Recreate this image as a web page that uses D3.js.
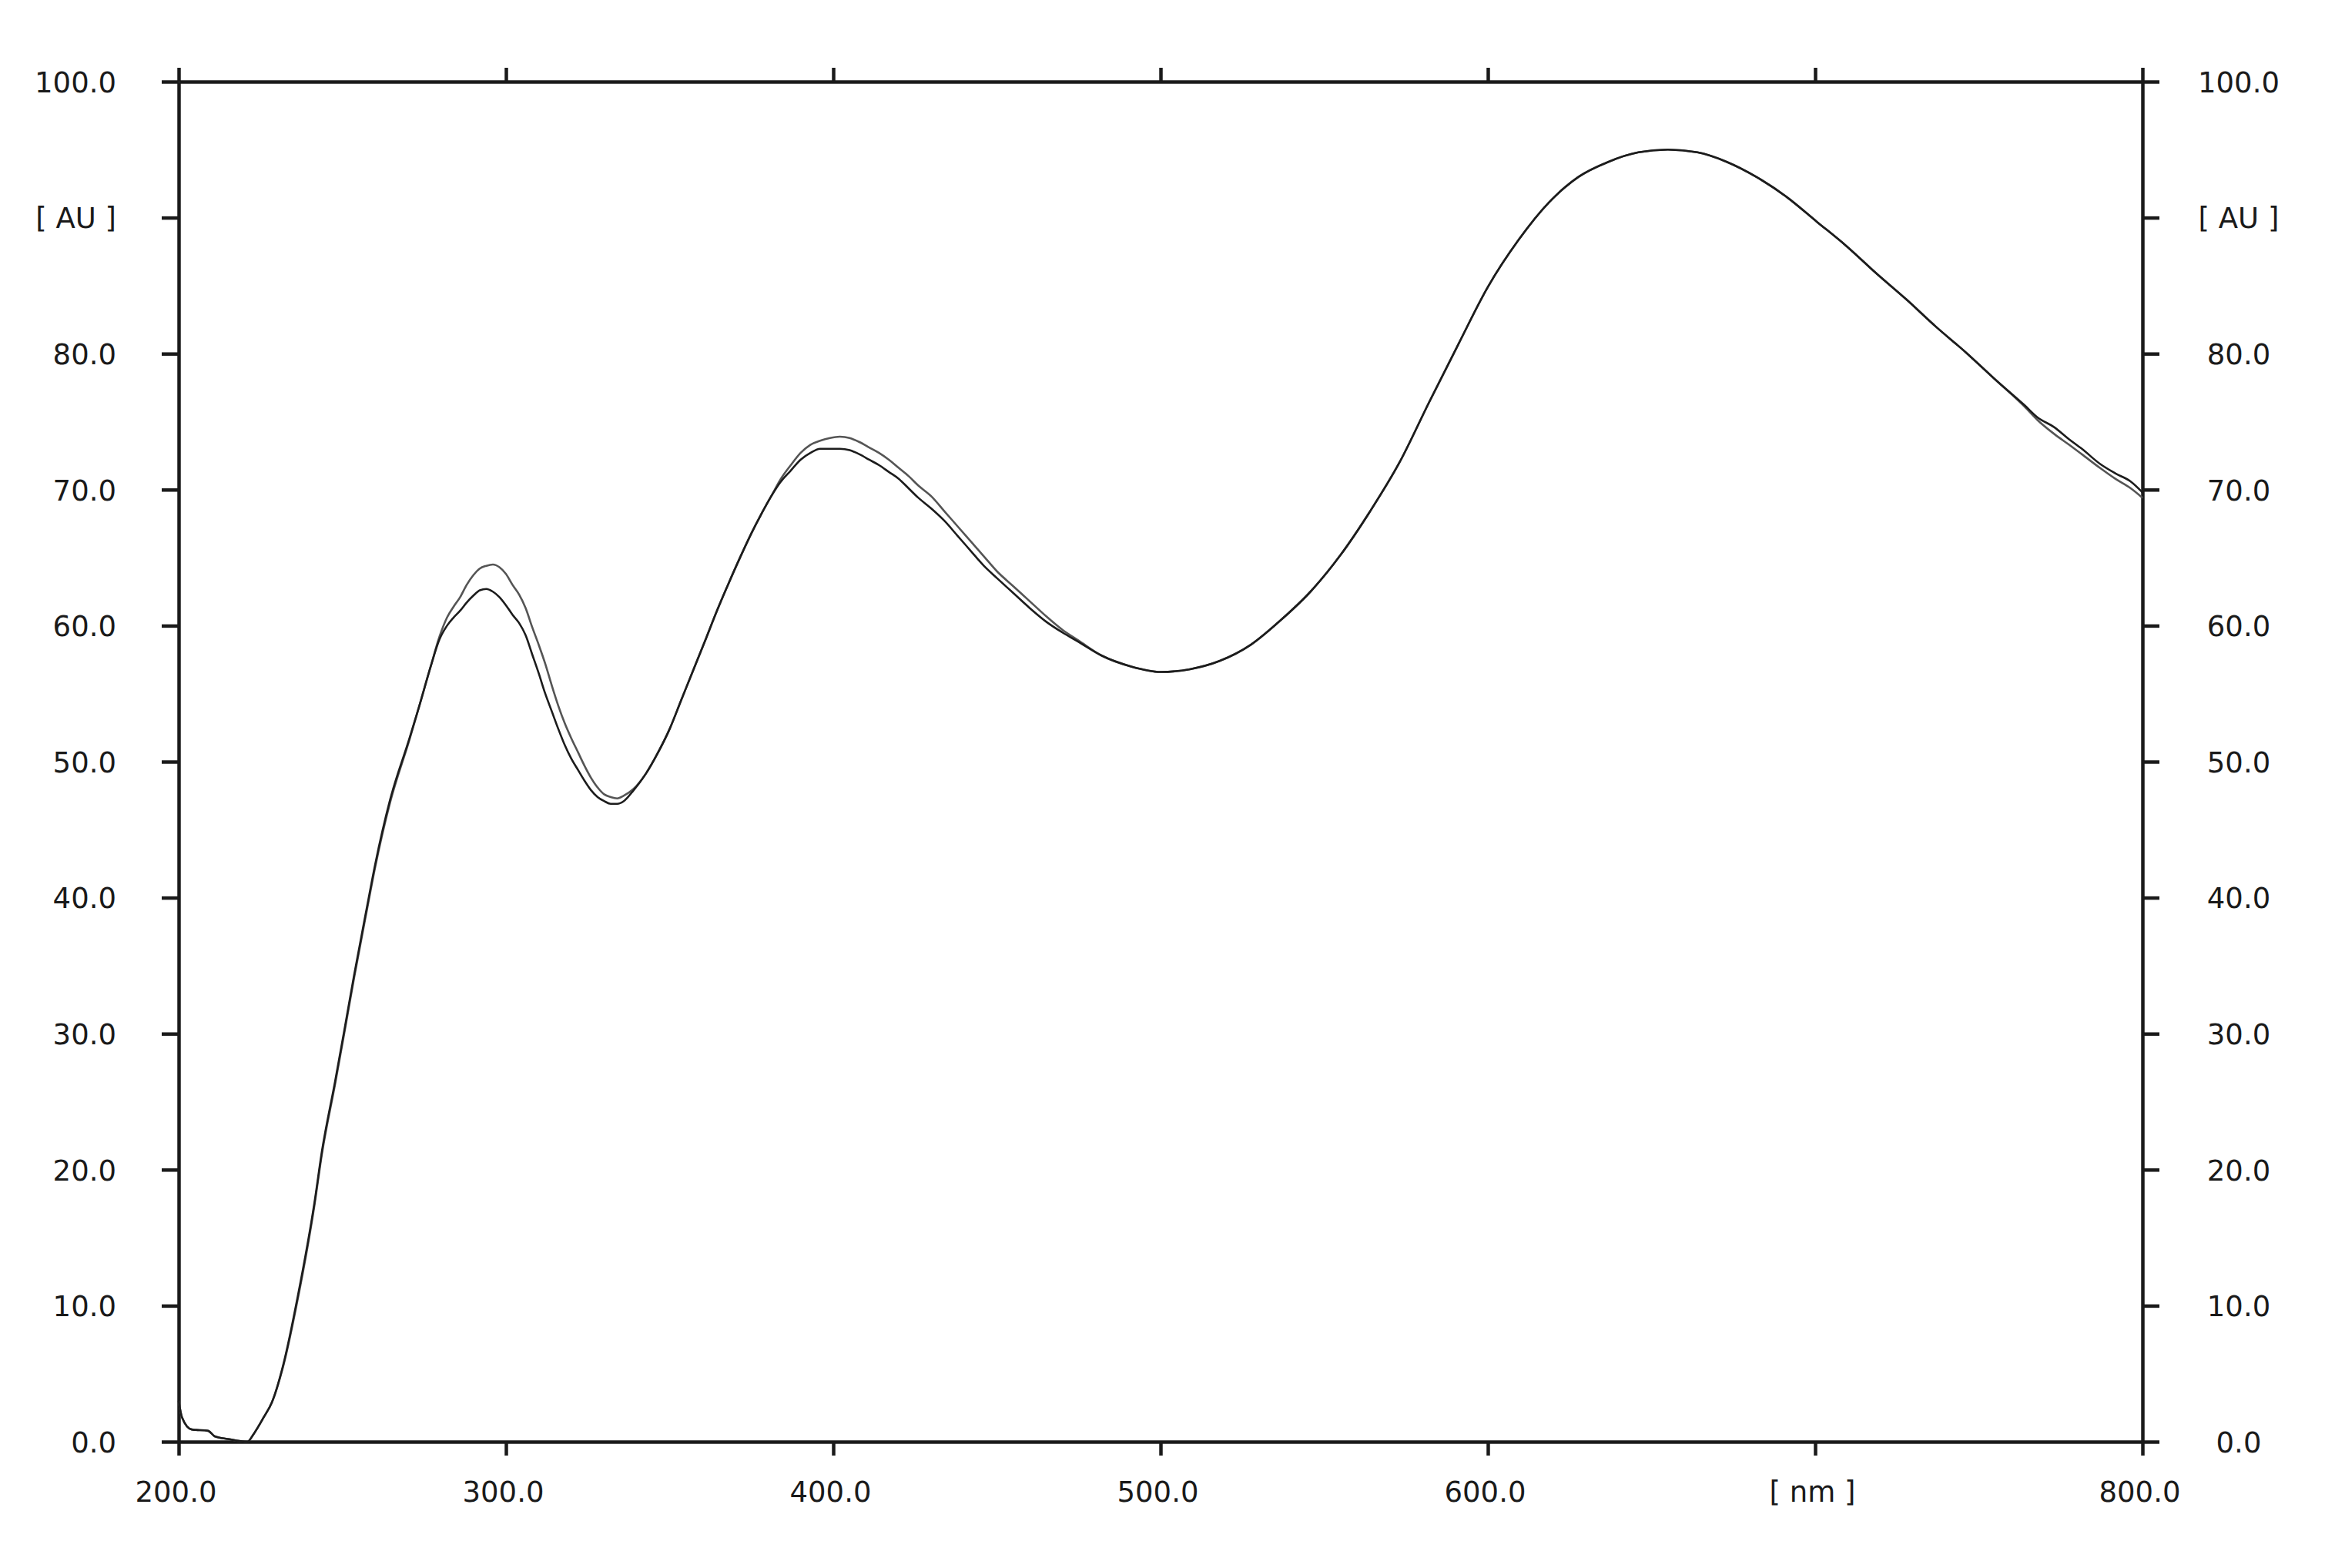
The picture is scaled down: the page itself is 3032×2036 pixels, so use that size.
<!DOCTYPE html>
<html>
<head>
<meta charset="utf-8">
<script src="https://cdn.jsdelivr.net/npm/d3@7"></script>
<style>
  body { margin: 0; background: #fff; }
  .axis text { font-family: "DejaVu Sans", sans-serif; font-size: 37px; fill: #1a1a1a; }
  .axis path, .axis line { stroke: #1a1a1a; stroke-width: 4.5px; }
</style>
</head>
<body>
<svg id="area" width="3032" height="2036"></svg>
<script>
// spectra
let wavelengths = [200, 201, 204, 209, 211, 215, 221, 223, 226, 228.5, 232, 236.4, 241.5, 243.8, 247.8,
  250.5, 253.6, 257.6, 260, 264.6, 270.5, 273.4, 277, 279.7, 282, 284, 286, 288, 290, 292, 294, 296, 298,
  300, 302, 304, 306, 308, 310, 312, 314, 316, 318, 320, 322, 324, 326, 328, 330, 332, 334, 336, 339,
  342.7, 346.3, 350, 353.5, 357, 360.7, 364.3, 368, 371.5, 375, 378, 381, 384, 387, 390, 393, 396, 399,
  402, 405, 408, 411, 414, 417, 420, 423, 426, 430, 434, 438, 442, 446, 450, 455, 460, 465, 470, 475,
  482, 491, 500, 509, 518, 527.6, 536.7, 545.8, 555, 564, 573, 582, 591, 600, 609.5, 618.6, 627.7,
  636.8, 646, 655, 664, 673, 682, 691.4, 700.5, 709.6, 718.7, 727.8, 736.8, 746, 755, 764, 768, 773,
  777.6, 781.5, 787, 791.7, 796.4, 800];

let absA = [3.0, 1.8, 0.9, 0.8, 0.4, 0.2, 0.0, 0.6, 1.8, 2.9, 5.6, 10.5, 17.4, 21.2, 26.3,
  29.9, 34.1, 39.2, 42.2, 47.0, 51.6, 54.0, 57.0, 59.2, 60.6, 61.4, 62.1, 63.0, 63.7, 64.2, 64.4, 64.5, 64.3,
  63.8, 63.0, 62.3, 61.3, 59.9, 58.6, 57.2, 55.6, 54.1, 52.8, 51.7, 50.7, 49.7, 48.8, 48.1, 47.6, 47.4, 47.3, 47.5, 48.0,
  49.1, 50.6, 52.4, 54.5, 56.6, 58.8, 61.0, 63.1, 65.0, 66.8, 68.2, 69.5, 70.8, 71.8, 72.7, 73.3, 73.6, 73.8,
  73.9, 73.8, 73.5, 73.1, 72.7, 72.2, 71.6, 71.0, 70.3, 69.5, 68.4, 67.3, 66.2, 65.1, 64.0, 62.9, 61.8, 60.7, 59.7, 58.9,
  57.8, 57.0, 56.6, 56.8, 57.4, 58.6, 60.4, 62.5, 65.2, 68.4, 72.0, 76.4, 80.7, 84.9, 88.4, 91.1, 93.0,
  94.1, 94.8, 95.0, 94.8, 94.1, 93.0, 91.5, 89.7, 87.9, 85.9, 84.0, 82.0, 80.1, 78.1, 76.1, 75.1, 74.1,
  73.3, 72.6, 71.6, 70.8, 70.1, 69.4];

let absB = [3.0, 1.8, 0.9, 0.8, 0.4, 0.2, 0.0, 0.6, 1.8, 2.9, 5.7, 10.7, 17.6, 21.4, 26.5,
  30.1, 34.3, 39.4, 42.4, 47.2, 51.7, 54.0, 57.0, 59.0, 60.0, 60.6, 61.1, 61.7, 62.2, 62.6, 62.7, 62.5, 62.1,
  61.5, 60.8, 60.2, 59.3, 57.9, 56.5, 55.0, 53.7, 52.4, 51.2, 50.2, 49.4, 48.6, 47.9, 47.4, 47.1, 46.9, 46.9, 47.1, 47.9,
  49.1, 50.6, 52.4, 54.5, 56.6, 58.8, 61.0, 63.1, 65.0, 66.8, 68.2, 69.5, 70.6, 71.4, 72.2, 72.7, 73.0, 73.0,
  73.0, 72.9, 72.6, 72.2, 71.8, 71.3, 70.8, 70.1, 69.4, 68.6, 67.7, 66.6, 65.5, 64.4, 63.5, 62.4, 61.3, 60.3, 59.5, 58.8,
  57.8, 57.0, 56.6, 56.8, 57.4, 58.6, 60.4, 62.5, 65.2, 68.4, 72.0, 76.4, 80.7, 84.9, 88.4, 91.1, 93.0,
  94.1, 94.8, 95.0, 94.8, 94.1, 93.0, 91.5, 89.7, 87.9, 85.9, 84.0, 82.0, 80.1, 78.1, 76.2, 75.3, 74.6,
  73.7, 73.0, 71.9, 71.2, 70.6, 69.8];

let xTicks = [200, 300, 400, 500, 600, 700, 800];
let xUnitTick = 700;
let xUnit = "[ nm ]";
let yTicks = [0, 10, 20, 30, 40, 50, 60, 70, 80, 90, 100];
let yUnitTick = 90;
let yUnit = "[ AU ]";

let svg = d3.select("#area");

let plotLeft = 232, plotRight = 2782, plotTop = 106, plotBottom = 1872;

let xScale = d3.scaleLinear()
    .domain([200, 800])
    .range([plotLeft, plotRight]);
let yScale = d3.scaleLinear()
    .domain([0, 100])
    .range([plotBottom, plotTop]);

let fmtX = d => d === xUnitTick ? xUnit : d.toFixed(1);
let fmtY = d => d === yUnitTick ? yUnit : d.toFixed(1);

// bottom axis
let gB = svg.append("g")
    .attr("class", "axis")
    .attr("transform", "translate(0," + plotBottom + ")")
    .call(d3.axisBottom(xScale).tickValues(xTicks).tickFormat(fmtX).tickSize(18).tickSizeOuter(0));
gB.selectAll("text").attr("y", 78).attr("dy", 0).attr("x", -4);

// top axis, ticks only
svg.append("g")
    .attr("class", "axis")
    .attr("transform", "translate(0," + plotTop + ")")
    .call(d3.axisTop(xScale).tickValues(xTicks).tickFormat("").tickSize(18).tickSizeOuter(0));

// left axis
let gL = svg.append("g")
    .attr("class", "axis")
    .attr("transform", "translate(" + plotLeft + ",0)")
    .call(d3.axisLeft(yScale).tickValues(yTicks).tickFormat(fmtY).tickSize(22).tickSizeOuter(0));
gL.selectAll("text").attr("x", -81).attr("dy", "0.36em");

// right axis
let gR = svg.append("g")
    .attr("class", "axis")
    .attr("transform", "translate(" + plotRight + ",0)")
    .call(d3.axisRight(yScale).tickValues(yTicks).tickFormat(fmtY).tickSize(22).tickSizeOuter(0));
gR.selectAll("text").attr("x", 125).attr("dy", "0.36em").attr("text-anchor", "middle");

let line = d3.line()
    .x(function(d) { return xScale(d[0]); })
    .y(function(d) { return yScale(d[1]); })
    .curve(d3.curveMonotoneX);

let seriesA = wavelengths.map((w, i) => [w, absA[i]]);
let seriesB = wavelengths.map((w, i) => [w, absB[i]]);

svg.append("path")
    .datum(seriesA)
    .attr("d", line)
    .style("fill", "none")
    .style("stroke", "#555")
    .style("stroke-width", "2.6px");

svg.append("path")
    .datum(seriesB)
    .attr("d", line)
    .style("fill", "none")
    .style("stroke", "#1c1c1c")
    .style("stroke-width", "2.6px");
</script>
</body>
</html>
